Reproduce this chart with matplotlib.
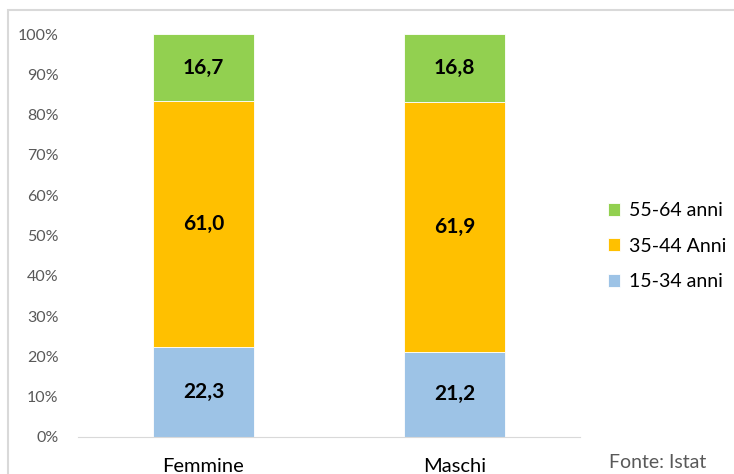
import matplotlib.pyplot as plt
from matplotlib.patches import Rectangle

categories = ['Femmine', 'Maschi']
giovani = [22.3, 21.2]     # 15-34 anni
centrali = [61.0, 61.9]    # 35-44 Anni
anziani = [16.7, 16.8]     # 55-64 anni
series_labels = ['15-34 anni', '35-44 Anni', '55-64 anni']
colors = ['#9DC3E6', '#FFC000', '#92D050']

plt.rcParams['font.family'] = ['Lato', 'DejaVu Sans']

fig = plt.figure(figsize=(7.34, 4.74), dpi=100)
ax = fig.add_axes([78 / 734, 37 / 474, 502 / 734, 403 / 474])

# bordo del grafico
fig.patches.append(Rectangle((8 / 734, -0.05), 1.0, (474 - 10) / 474 + 0.05,
                             transform=fig.transFigure, fill=False,
                             edgecolor='#D9D9D9', linewidth=1.5))

x = range(len(categories))
bottom = [0, 0]
handles = []
for vals, lab, col in zip([giovani, centrali, anziani], series_labels, colors):
    bars = ax.bar(x, vals, width=0.4, bottom=bottom, color=col,
                  edgecolor='white', linewidth=0.6, label=lab)
    handles.append(bars)
    for xi, v, b in zip(x, vals, bottom):
        ax.text(xi, b + v / 2, f'{v:.1f}'.replace('.', ','), ha='center',
                va='center', fontsize=15, fontweight='bold', color='black')
    bottom = [b + v for b, v in zip(bottom, vals)]

ax.set_xlim(-0.5, 1.5)
ax.set_ylim(0, 100)
ax.set_yticks(range(0, 101, 10))
ax.set_yticklabels([f'{t}%' for t in range(0, 101, 10)])
ax.set_xticks(list(x))
ax.set_xticklabels(categories)
ax.tick_params(axis='y', length=0, labelsize=11.5, colors='#595959', pad=14)
ax.tick_params(axis='x', length=0, labelsize=14.5, colors='black', pad=15)
for s in ['top', 'right', 'left']:
    ax.spines[s].set_visible(False)
ax.spines['bottom'].set_color('#D9D9D9')

leg = fig.legend(handles[::-1], series_labels[::-1], loc='center left',
                 bbox_to_anchor=(590 / 734, 1 - 246 / 474), frameon=False,
                 fontsize=14, handlelength=0.65, handleheight=0.65,
                 handletextpad=0.45, labelspacing=0.95)

fig.text(658 / 734, 1 - 463 / 474, 'Fonte: Istat', ha='center', va='center',
         fontsize=14, color='#595959')

fig.savefig('out.png', dpi=100)
